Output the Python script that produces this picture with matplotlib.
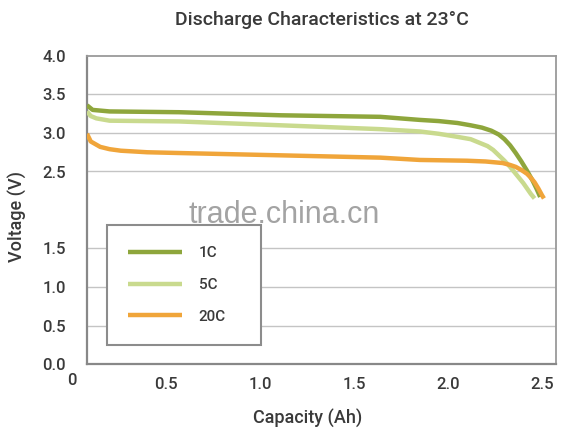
import numpy as np
import matplotlib
matplotlib.use('Agg')
import matplotlib.pyplot as plt
from matplotlib.transforms import blended_transform_factory

# capacity (Ah) / voltage (V)
cap_1c = [0.08, 0.11, 0.20, 0.57, 1.11, 1.64, 1.85, 1.95, 2.05, 2.12, 2.18, 2.23, 2.27,
          2.30, 2.33, 2.36, 2.39, 2.42, 2.45, 2.47, 2.49]
volt_1c = [3.36, 3.30, 3.28, 3.27, 3.23, 3.21, 3.17, 3.155, 3.13, 3.10, 3.07, 3.03, 2.98,
           2.92, 2.84, 2.74, 2.63, 2.51, 2.38, 2.28, 2.17]

cap_5c = [0.08, 0.10, 0.13, 0.20, 0.57, 1.11, 1.64, 1.85, 1.95, 2.05, 2.12, 2.17, 2.21,
          2.24, 2.27, 2.30, 2.33, 2.36, 2.38, 2.40, 2.42, 2.44, 2.46]
volt_5c = [3.28, 3.22, 3.19, 3.16, 3.15, 3.10, 3.05, 3.02, 2.99, 2.95, 2.92, 2.87, 2.83,
           2.78, 2.71, 2.64, 2.56, 2.47, 2.41, 2.35, 2.28, 2.21, 2.15]

cap_20c = [0.08, 0.10, 0.15, 0.20, 0.26, 0.40, 0.57, 1.11, 1.64, 1.85, 2.10, 2.20, 2.29,
           2.33, 2.36, 2.39, 2.42, 2.44, 2.46, 2.48, 2.50, 2.51]
volt_20c = [2.99, 2.89, 2.82, 2.79, 2.77, 2.75, 2.74, 2.71, 2.68, 2.65, 2.64, 2.63, 2.61,
            2.585, 2.56, 2.52, 2.47, 2.42, 2.36, 2.28, 2.19, 2.15]

series_labels = ['1C', '5C', '20C']
series_colors = ['#8ea63c', '#c9da8e', '#f0a53a']

y_ticks = [0.0, 0.5, 1.0, 1.5, 2.5, 3.0, 3.5, 4.0]
x_ticks = [0.5, 1.0, 1.5, 2.0, 2.5]

FONT = ['Roboto', 'DejaVu Sans']
WEIGHT = 'medium'
TEXT_COLOR = '#3a3a3a'

fig = plt.figure(figsize=(5.70, 4.48), dpi=100)
ax = fig.add_axes([0.1526, 0.1875, 0.8228, 0.6875])

for cap, volt, label, color in zip([cap_1c, cap_5c, cap_20c],
                                   [volt_1c, volt_5c, volt_20c],
                                   series_labels, series_colors):
    ax.plot(cap, volt, color=color, lw=3.2, label=label, solid_capstyle='butt',
            solid_joinstyle='round', zorder=3)

ax.set_xlim(0.08, 2.574)
ax.set_ylim(0, 4.0)

# horizontal grid lines (2.0 is hidden by the watermark in the original)
for y in y_ticks[1:-1]:
    ax.axhline(y, color='#c4c4c4', lw=1.0, zorder=1)

ax.set_xticks(x_ticks)
ax.set_xticklabels([f'{t:.1f}' for t in x_ticks])
ax.set_yticks(y_ticks)
ax.set_yticklabels([f'{t:.1f}' for t in y_ticks])
ax.tick_params(length=0, labelsize=12, labelcolor=TEXT_COLOR, pad=9)
ax.tick_params(axis='y', pad=15)
for lbl in ax.get_xticklabels() + ax.get_yticklabels():
    lbl.set_fontfamily(FONT)
    lbl.set_fontweight(WEIGHT)

trans = blended_transform_factory(ax.transData, ax.transAxes)
ax.text(0, -0.03, '0', transform=trans, ha='center', va='top',
        fontsize=12, color=TEXT_COLOR, family=FONT, weight=WEIGHT)

for side in ['left', 'bottom']:
    ax.spines[side].set_color('#888888')
    ax.spines[side].set_linewidth(1.6)
for side in ['top', 'right']:
    ax.spines[side].set_color('#9a9a9a')
    ax.spines[side].set_linewidth(1.3)

ax.set_xlabel('Capacity (Ah)', fontsize=13, color=TEXT_COLOR, family=FONT, weight=WEIGHT)
ax.xaxis.set_label_coords(0.471, -0.145)
ax.set_ylabel('Voltage (V)', fontsize=13, color=TEXT_COLOR, family=FONT, weight=WEIGHT)
ax.yaxis.set_label_coords(-0.128, 0.48)
ax.set_title('Discharge Characteristics at 23\u00b0C', fontsize=14, color=TEXT_COLOR,
             family=FONT, weight=WEIGHT, pad=22)

leg = ax.legend(loc='lower left', bbox_to_anchor=(0.0426, 0.0617, 0.329, 0.38),
                mode='expand', frameon=True, fancybox=False, framealpha=1,
                edgecolor='#8c8c8c', fontsize=11, handlelength=3.5,
                handletextpad=1.1, labelspacing=1.15, borderpad=1.4,
                borderaxespad=0, prop={'family': FONT, 'weight': WEIGHT, 'size': 11})
leg.get_frame().set_linewidth(1.5)
for t in leg.get_texts():
    t.set_color(TEXT_COLOR)

# watermark
ax.text(0.42, 0.484, 'trade.china.cn', transform=ax.transAxes, ha='center', va='center',
        fontsize=22, color='#a3a3a3', family=['Liberation Sans', 'DejaVu Sans'], zorder=4)

fig.savefig('out.png', dpi=100)
